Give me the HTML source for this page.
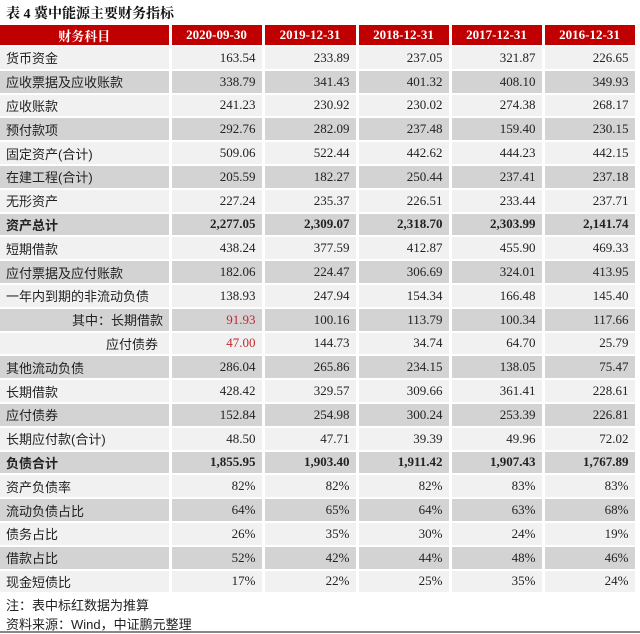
<!DOCTYPE html>
<html><head><meta charset="utf-8"><style>
body{margin:0;width:640px;height:634px;background:#fff;overflow:hidden;position:relative;font-family:"Liberation Serif","Noto Serif CJK SC",serif;}
.t{position:absolute;left:6px;top:3px;font-size:14px;font-weight:bold;color:#111;font-family:"Liberation Serif","Noto Serif CJK SC",serif;}
table{position:absolute;left:0;top:25px;border-collapse:collapse;table-layout:fixed;width:636px;}
td,th{padding:0 6px;border-right:3px solid #fff;border-bottom:2px solid #fff;font-size:13px;color:#222;white-space:nowrap;overflow:hidden;text-align:right;height:21.8px;}
th{background:#c00000;color:#fff;font-weight:bold;text-align:center;height:20px;font-family:"Liberation Serif","Noto Serif CJK SC",serif;}
td:first-child{text-align:left;font-family:"Liberation Sans","Noto Sans CJK SC",sans-serif;}
tr:nth-child(odd) td{background:#f1f1f1}
tr:nth-child(even) td{background:#d3d3d3}
tr.b td{font-weight:bold}
.r{color:#c0282f}
.n{position:absolute;left:6px;font-size:13px;font-family:"Liberation Sans","Noto Sans CJK SC",sans-serif;color:#222}
</style></head><body>
<div class="t">表 4 冀中能源主要财务指标</div>
<table>
<colgroup><col style="width:170px"><col style="width:93px"><col style="width:94px"><col style="width:93px"><col style="width:93px"><col style="width:93px"></colgroup>
<thead><tr><th>财务科目</th><th>2020-09-30</th><th>2019-12-31</th><th>2018-12-31</th><th>2017-12-31</th><th>2016-12-31</th></tr></thead>
<tbody>
<tr><td>货币资金</td><td>163.54</td><td>233.89</td><td>237.05</td><td>321.87</td><td>226.65</td></tr>
<tr><td>应收票据及应收账款</td><td>338.79</td><td>341.43</td><td>401.32</td><td>408.10</td><td>349.93</td></tr>
<tr><td>应收账款</td><td>241.23</td><td>230.92</td><td>230.02</td><td>274.38</td><td>268.17</td></tr>
<tr><td>预付款项</td><td>292.76</td><td>282.09</td><td>237.48</td><td>159.40</td><td>230.15</td></tr>
<tr><td>固定资产(合计)</td><td>509.06</td><td>522.44</td><td>442.62</td><td>444.23</td><td>442.15</td></tr>
<tr><td>在建工程(合计)</td><td>205.59</td><td>182.27</td><td>250.44</td><td>237.41</td><td>237.18</td></tr>
<tr><td>无形资产</td><td>227.24</td><td>235.37</td><td>226.51</td><td>233.44</td><td>237.71</td></tr>
<tr class="b"><td>资产总计</td><td>2,277.05</td><td>2,309.07</td><td>2,318.70</td><td>2,303.99</td><td>2,141.74</td></tr>
<tr><td>短期借款</td><td>438.24</td><td>377.59</td><td>412.87</td><td>455.90</td><td>469.33</td></tr>
<tr><td>应付票据及应付账款</td><td>182.06</td><td>224.47</td><td>306.69</td><td>324.01</td><td>413.95</td></tr>
<tr><td>一年内到期的非流动负债</td><td>138.93</td><td>247.94</td><td>154.34</td><td>166.48</td><td>145.40</td></tr>
<tr><td style="padding-left:72px">其中：长期借款</td><td class="r">91.93</td><td>100.16</td><td>113.79</td><td>100.34</td><td>117.66</td></tr>
<tr><td style="padding-left:106px">应付债券</td><td class="r">47.00</td><td>144.73</td><td>34.74</td><td>64.70</td><td>25.79</td></tr>
<tr><td>其他流动负债</td><td>286.04</td><td>265.86</td><td>234.15</td><td>138.05</td><td>75.47</td></tr>
<tr><td>长期借款</td><td>428.42</td><td>329.57</td><td>309.66</td><td>361.41</td><td>228.61</td></tr>
<tr><td>应付债券</td><td>152.84</td><td>254.98</td><td>300.24</td><td>253.39</td><td>226.81</td></tr>
<tr><td>长期应付款(合计)</td><td>48.50</td><td>47.71</td><td>39.39</td><td>49.96</td><td>72.02</td></tr>
<tr class="b"><td>负债合计</td><td>1,855.95</td><td>1,903.40</td><td>1,911.42</td><td>1,907.43</td><td>1,767.89</td></tr>
<tr><td>资产负债率</td><td>82%</td><td>82%</td><td>82%</td><td>83%</td><td>83%</td></tr>
<tr><td>流动负债占比</td><td>64%</td><td>65%</td><td>64%</td><td>63%</td><td>68%</td></tr>
<tr><td>债务占比</td><td>26%</td><td>35%</td><td>30%</td><td>24%</td><td>19%</td></tr>
<tr><td>借款占比</td><td>52%</td><td>42%</td><td>44%</td><td>48%</td><td>46%</td></tr>
<tr><td>现金短债比</td><td>17%</td><td>22%</td><td>25%</td><td>35%</td><td>24%</td></tr>
</tbody></table>
<div class="n" style="top:595px">注：表中标红数据为推算</div>
<div class="n" style="top:614px">资料来源：Wind，中证鹏元整理</div>
<div style="position:absolute;left:0;top:631px;width:640px;height:2px;background:#888"></div>
</body></html>
